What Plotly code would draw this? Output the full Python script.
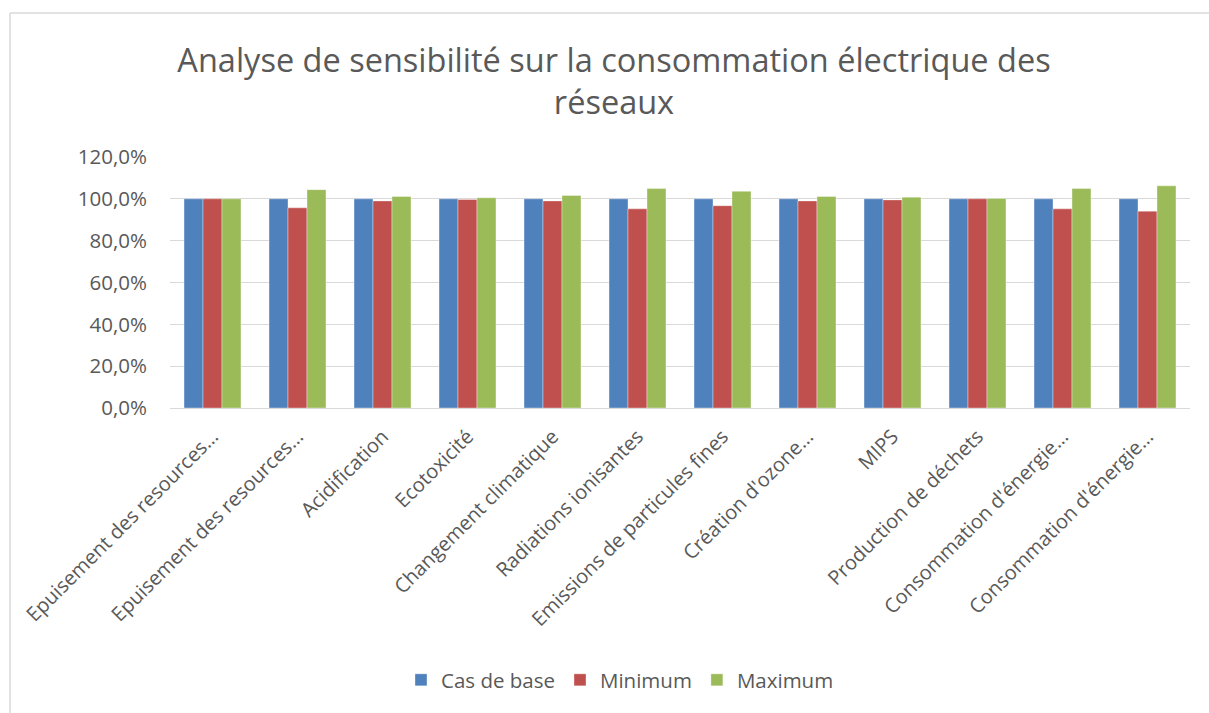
import plotly.graph_objects as go

categories = [
    "Epuisement des resources…",
    "Epuisement des resources…",
    "Acidification",
    "Ecotoxicité",
    "Changement climatique",
    "Radiations ionisantes",
    "Emissions de particules fines",
    "Création d'ozone…",
    "MIPS",
    "Production de déchets",
    "Consommation d'énergie…",
    "Consommation d'énergie…",
]
cas_de_base = [1.0] * 12
minimum = [1.000, 0.957, 0.990, 0.997, 0.990, 0.952, 0.967, 0.990, 0.995, 1.000, 0.952, 0.941]
maximum = [1.000, 1.044, 1.011, 1.005, 1.016, 1.049, 1.036, 1.011, 1.008, 1.002, 1.049, 1.062]
y_ticks = [0, 0.2, 0.4, 0.6, 0.8, 1.0, 1.2]

W, H = 1209, 713
L, R, T, B = 170, 19, 157, 305
pw, ph = W - L - R, H - T - B

def px_x(p):
    return (p - L) / pw

def px_y(p):
    return (H - B - p) / ph

FONT = "Open Sans"
GREY = "#595959"
TICK = 20.5
idx = list(range(len(categories)))

fig = go.Figure()
for name, vals, col in [
    ("Cas de base", cas_de_base, "#4F81BD"),
    ("Minimum", minimum, "#C0504D"),
    ("Maximum", maximum, "#9BBB59"),
]:
    fig.add_trace(go.Bar(
        x=idx, y=vals, name=name,
        marker=dict(color=col, line=dict(color="rgba(255,255,255,0.6)", width=0.6)),
    ))

fig.update_layout(
    width=W, height=H,
    margin=dict(l=L, r=R, t=T, b=B),
    paper_bgcolor="white", plot_bgcolor="white",
    separators=", ",
    barmode="group", bargap=0.33, bargroupgap=0,
    font=dict(family=FONT, color=GREY, size=TICK),
    title=dict(
        text="Analyse de sensibilité sur la consommation électrique des<br>réseaux",
        x=614 / W, xref="container", xanchor="center",
        y=1 - 72 / H, yref="container", yanchor="middle",
        font=dict(family=FONT, size=32.5, color=GREY),
    ),
    xaxis=dict(
        tickmode="array", tickvals=idx, ticktext=categories,
        tickangle=-45, range=[-0.5, len(categories) - 0.5],
        showgrid=False, showline=True, linecolor="#D9D9D9", linewidth=1,
        ticks="", ticklabelstandoff=8,
        tickfont=dict(size=20, color=GREY),
    ),
    yaxis=dict(
        range=[0, 1.2], tickmode="array", tickvals=y_ticks, tickformat=".1%",
        showgrid=True, gridcolor="#D9D9D9", gridwidth=1,
        zeroline=False, showline=False, ticks="",
        ticklabelstandoff=22,
        tickfont=dict(size=TICK, color=GREY),
    ),
    legend=dict(
        orientation="h", x=px_x(620), xanchor="center",
        y=px_y(680), yanchor="middle",
        font=dict(size=TICK, color=GREY),
        itemwidth=30, traceorder="normal",
    ),
    shapes=[
        dict(type="line", xref="paper", yref="paper",
             x0=px_x(10), x1=px_x(W + 5), y0=px_y(13), y1=px_y(13),
             line=dict(color="#D9D9D9", width=1.5)),
        dict(type="line", xref="paper", yref="paper",
             x0=px_x(10), x1=px_x(10), y0=px_y(13), y1=px_y(H + 5),
             line=dict(color="#D9D9D9", width=1.5)),
    ],
)

fig.write_html(
    "out.html",
    config={"displayModeBar": False},
    post_script="document.body.style.margin='0';document.body.style.overflow='hidden';",
)
